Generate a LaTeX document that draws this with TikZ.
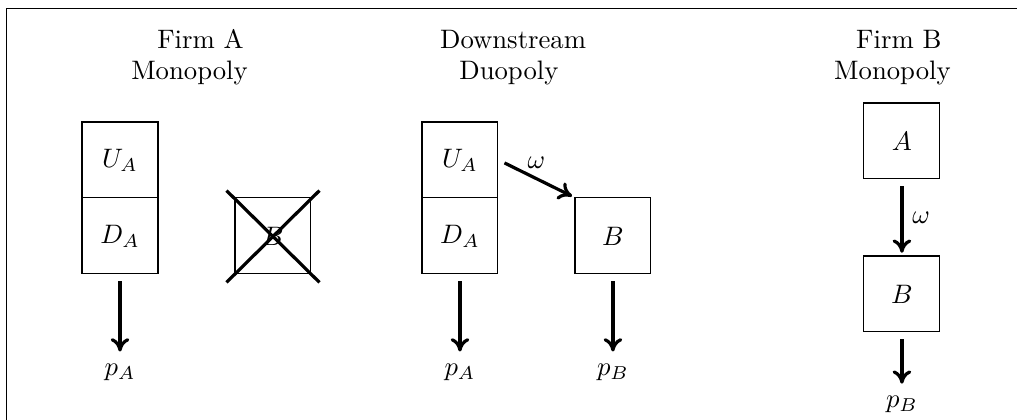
\documentclass[tikz,border=0pt]{standalone}
\usetikzlibrary{arrows.meta, positioning, calc}

\begin{document}
\begin{tikzpicture}[
    node distance=1cm,
    firm/.style={rectangle, draw, minimum size=1cm, inner sep=0pt},
    title/.style={anchor=base},
    arrow/.style={-{To[length=5pt, width=7pt]}, very thick, shorten <=2.5pt, shorten >=1pt},
    cross/.style={very thick}
]
\useasboundingbox (0,0) rectangle (13.39,-5.529);
\draw (0.086,-0.112) rectangle (14,-6);

% market structures
\node[title] (tA) at (2.640,-0.632) {Firm A};
\node[title] (mA) at (2.495,-1.053) {Monopoly};
\node[title] (tD) at (6.755,-0.632) {Downstream};
\node[title] (mD) at (6.700,-1.053) {Duopoly};
\node[title] (tB) at (11.835,-0.632) {Firm B};
\node[title] (mB) at (11.750,-1.053) {Monopoly};

% Firm A monopoly
\node[firm] (UA1) at (1.580,-2.106) {$U_A$};
\node[firm, below=-0.4pt of UA1] (DA1) {$D_A$};
\node[firm, right=of DA1] (XB) {$B$};
\node[below=1.05cm of DA1] (pA1) {$p_A$};
\draw[cross] ($(XB.north west)+(-0.105,0.09)$) -- ($(XB.south east)+(0.105,-0.105)$);
\draw[cross] ($(XB.south west)+(-0.105,-0.105)$) -- ($(XB.north east)+(0.105,0.09)$);
\draw[arrow] (DA1) -- (pA1);

% downstream duopoly
\node[firm] (UA2) at (6.056,-2.106) {$U_A$};
\node[firm, below=-0.4pt of UA2] (DA2) {$D_A$};
\node[firm, right=of DA2] (B2) {$B$};
\node[below=1.05cm of DA2] (pA2) {$p_A$};
\node[below=1.05cm of B2] (pB2) {$p_B$};
\draw[arrow] (UA2.east) -- (B2.north west) node[midway, above] {$\omega$};
\draw[arrow] (DA2) -- (pA2);
\draw[arrow] (B2) -- (pB2);

% Firm B monopoly
\node[firm] (A3) at (11.875,-1.856) {$A$};
\node[firm, below=of A3] (B3) {$B$};
\node[below=0.71cm of B3] (pB3) {$p_B$};
\draw[arrow] (A3) -- (B3) node[midway, right] {$\omega$};
\draw[arrow] (B3) -- (pB3);

\end{tikzpicture}
\end{document}
